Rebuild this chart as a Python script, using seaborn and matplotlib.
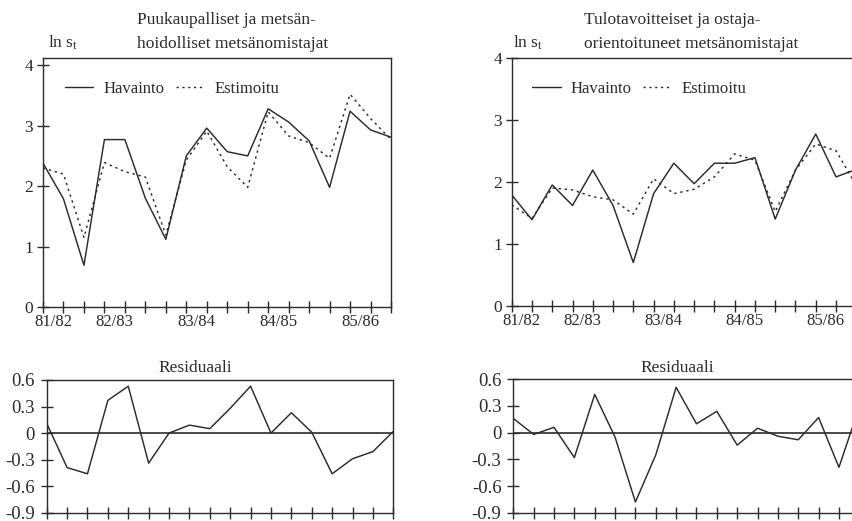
import matplotlib
matplotlib.use("Agg")
import matplotlib.pyplot as plt
import seaborn as sns
import pandas as pd
from matplotlib.lines import Line2D

# ---------------- data ----------------
periods = list(range(18))
season_labels = ["81/82", "82/83", "83/84", "84/85", "85/86"]
season_pos = [0.5, 3.5, 7.5, 11.5, 15.5]

left_obs = [2.38, 1.79, 0.69, 2.77, 2.77, 1.80, 1.12, 2.50, 2.96, 2.57, 2.50, 3.28, 3.06, 2.75, 1.98, 3.24, 2.93, 2.81]
left_est = [2.30, 2.20, 1.15, 2.39, 2.24, 2.15, 1.19, 2.43, 2.91, 2.32, 1.98, 3.23, 2.83, 2.72, 2.46, 3.52, 3.12, 2.77]
left_res = [0.11, -0.39, -0.46, 0.37, 0.53, -0.34, 0.00, 0.09, 0.05, 0.28, 0.53, 0.00, 0.23, 0.01, -0.46, -0.29, -0.21, 0.02]

right_obs = [1.79, 1.39, 1.95, 1.62, 2.19, 1.62, 0.70, 1.81, 2.30, 1.97, 2.30, 2.30, 2.39, 1.40, 2.19, 2.77, 2.08, 2.20]
right_est = [1.63, 1.41, 1.90, 1.87, 1.76, 1.71, 1.48, 2.05, 1.81, 1.88, 2.08, 2.45, 2.35, 1.52, 2.19, 2.61, 2.50, 1.94]
right_res = [0.16, -0.02, 0.06, -0.28, 0.43, -0.05, -0.78, -0.25, 0.51, 0.10, 0.24, -0.14, 0.05, -0.04, -0.08, 0.17, -0.39, 0.29]

top_titles = [["Puukaupalliset ja metsän-", "hoidolliset metsänomistajat"],
              ["Tulotavoitteiset ja ostaja-", "orientoituneet metsänomistajat"]]
res_title = "Residuaali"
legend_labels = ["Havainto", "Estimoitu"]
res_ticks = [0.6, 0.3, 0.0, -0.3, -0.6, -0.9]
res_ticklabels = ["0.6", "0.3", "0", "-0.3", "-0.6", "-0.9"]

# ---------------- style ----------------
sns.set_style("white")
plt.rcParams["font.family"] = ["Liberation Serif", "DejaVu Serif"]
plt.rcParams["mathtext.fontset"] = "custom"
plt.rcParams["mathtext.rm"] = "Liberation Serif"
plt.rcParams["mathtext.it"] = "Liberation Serif:italic"
plt.rcParams["axes.unicode_minus"] = False

INK = "#2b2b2b"
DOT = (0, (1.6, 2.6))
W, H = 853, 521
fig = plt.figure(figsize=(W / 100, H / 100), dpi=100)


def px(l, t, r, b):
    return [l / W, 1 - b / H, (r - l) / W, (b - t) / H]


ax_tl = fig.add_axes(px(43, 58, 391, 307))
ax_tr = fig.add_axes(px(511.7, 57.7, 856.3, 306))
ax_bl = fig.add_axes(px(46.7, 380, 393.3, 512.7))
ax_br = fig.add_axes(px(513.3, 379.3, 859.3, 512.7))


def style_axes(ax):
    for s in ax.spines.values():
        s.set_visible(True)
        s.set_color(INK)
        s.set_linewidth(1.0)
    ax.set_xlim(0, 17)
    ax.set_xticks(periods)
    ax.set_xticklabels([])
    ax.set_xlabel("")
    ax.set_ylabel("")
    ax.tick_params(which="major", direction="inout", length=9, width=1.0,
                   color=INK, labelcolor=INK, bottom=True, left=True,
                   top=False, right=False)


def top_panel(ax, obs, est, ytop, leg_x):
    df = pd.DataFrame({"t": periods, "obs": obs, "est": est})
    sns.lineplot(data=df, x="t", y="obs", ax=ax, color=INK, linewidth=1.05)
    sns.lineplot(data=df, x="t", y="est", ax=ax, color=INK, linewidth=1.05,
                 linestyle=DOT)
    style_axes(ax)
    ax.set_ylim(0, ytop)
    ax.set_yticks([0, 1, 2, 3, 4])
    ax.set_yticklabels(["0", "1", "2", "3", "4"], fontsize=12.5)
    ax.tick_params(axis="y", pad=2.5)
    ax.set_xticks(season_pos, minor=True)
    ax.set_xticklabels(season_labels, minor=True, fontsize=12)
    ax.tick_params(axis="x", which="minor", length=0, pad=5, labelcolor=INK,
                   bottom=True)
    handles = [Line2D([], [], color=INK, lw=1.0),
               Line2D([], [], color=INK, lw=1.0, linestyle=DOT)]
    ax.legend(handles, legend_labels, ncol=2, frameon=False, fontsize=12,
              loc="center left", bbox_to_anchor=(leg_x, 0.875),
              handlelength=1.7, handletextpad=0.6, columnspacing=0.7,
              borderaxespad=0, borderpad=0, labelcolor=INK)


def res_panel(ax, res):
    df = pd.DataFrame({"t": periods, "res": res})
    ax.axhline(0, color=INK, lw=1.2)
    sns.lineplot(data=df, x="t", y="res", ax=ax, color=INK, linewidth=1.05)
    style_axes(ax)
    ax.set_ylim(-0.9, 0.6)
    ax.set_yticks(res_ticks)
    ax.set_yticklabels(res_ticklabels, fontsize=13.5)
    ax.tick_params(axis="y", pad=4)


top_panel(ax_tl, left_obs, left_est, 4.12, 0.063)
top_panel(ax_tr, right_obs, right_est, 4.0, 0.06)
res_panel(ax_bl, left_res)
res_panel(ax_br, right_res)

# titles and axis captions
for x0, lines in zip([137, 584], top_titles):
    fig.text(x0 / W, 1 - 24 / H, lines[0], fontsize=12.5, color=INK, va="baseline", ha="left")
    fig.text(x0 / W, 1 - 48 / H, lines[1], fontsize=12.5, color=INK, va="baseline", ha="left")
for x0 in [48, 513]:
    fig.text(x0 / W, 1 - 48 / H, r"ln s$_\mathrm{t}$", fontsize=12.5, color=INK,
             va="baseline", ha="left")
for xc in [195, 677]:
    fig.text(xc / W, 1 - 372 / H, res_title, fontsize=12.5, color=INK,
             va="baseline", ha="center")

fig.savefig("out.png", dpi=100)
